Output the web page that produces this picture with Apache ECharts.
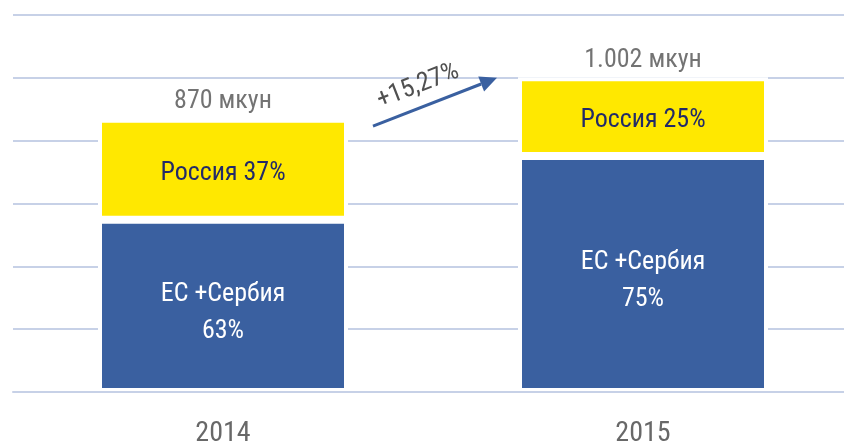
<!DOCTYPE html>
<html>
<head>
<meta charset="utf-8">
<style>
  html, body { margin: 0; padding: 0; background: #ffffff; }
  #chart { width: 844px; height: 443px; }
</style>
<script src="https://cdn.jsdelivr.net/npm/echarts@6/dist/echarts.min.js"></script>
</head>
<body>
<div id="chart"></div>
<script>
// Import volume by origin, 2014–2015
const years = ['2014', '2015'];
const totals = [870, 1002];          // мкун
const euShare = [63, 75];            // % ЕС + Сербия
const ruShare = [37, 25];            // % Россия
const yTicks = [0, 200, 400, 600, 800, 1000, 1200];
const growthLabel = '+15,27%';

const FONT = '"Roboto Condensed", Roboto, sans-serif';
const BLUE = '#3a60a0';
const YELLOW = '#ffe800';
const GRID = '#c7d1e7';

const euValues = totals.map((t, i) => t * euShare[i] / 100);
const ruValues = totals.map((t, i) => t * ruShare[i] / 100);

function thousands(n) {
  return String(n).replace(/\B(?=(\d{3})+(?!\d))/g, '.');
}

const chart = echarts.init(document.getElementById('chart'), null, { renderer: 'canvas' });

chart.setOption({
  animation: false,
  backgroundColor: '#ffffff',
  textStyle: { fontFamily: FONT },
  grid: { left: 13, right: -9, top: 15, bottom: 51, containLabel: false, outerBoundsMode: 'none' },
  xAxis: {
    type: 'category',
    data: years,
    z: 5,
    axisLine: { show: true, lineStyle: { color: GRID, width: 2 } },
    axisTick: { show: false },
    axisLabel: { color: '#686868', fontSize: 28, fontFamily: FONT, margin: 28 }
  },
  yAxis: {
    type: 'value',
    min: yTicks[0],
    max: yTicks[yTicks.length - 1],
    interval: yTicks[1] - yTicks[0],
    axisLine: { show: false },
    axisTick: { show: false },
    axisLabel: { show: false },
    splitLine: { show: true, lineStyle: { color: GRID, width: 2 } }
  },
  series: [
    {
      name: 'ЕС +Сербия',
      type: 'bar',
      stack: 'total',
      barWidth: 250,
      data: euValues,
      itemStyle: { color: BLUE, borderColor: '#ffffff', borderWidth: 4 },
      label: {
        show: true,
        position: 'inside',
        offset: [0, 7],
        color: '#ffffff',
        fontSize: 26,
        lineHeight: 37,
        fontFamily: FONT,
        formatter: p => 'ЕС +Сербия\n' + euShare[p.dataIndex] + '%'
      }
    },
    {
      name: 'Россия',
      type: 'bar',
      stack: 'total',
      barWidth: 250,
      data: ruValues,
      itemStyle: { color: YELLOW, borderColor: '#ffffff', borderWidth: 4 },
      label: {
        show: true,
        position: 'inside',
        offset: [0, 4],
        color: '#222a68',
        fontSize: 26,
        fontFamily: FONT,
        formatter: p => 'Россия ' + ruShare[p.dataIndex] + '%'
      }
    },
    {
      name: 'total',
      type: 'scatter',
      symbolSize: 0,
      data: totals,
      silent: true,
      z: 6,
      label: {
        show: true,
        position: 'top',
        distance: 4,
        color: '#505050',
        fontSize: 26,
        fontFamily: FONT,
        formatter: p => thousands(totals[p.dataIndex]) + ' мкун'
      }
    }
  ]
});

// Growth arrow between the two columns, anchored to axis coordinates
function drawArrow() {
  const a = chart.convertToPixel({ gridIndex: 0 }, [0, 846]);
  const b = chart.convertToPixel({ gridIndex: 0 }, [1, 1000]);
  const x1 = a[0] + 150, y1 = a[1];
  const x2 = b[0] - 146, y2 = b[1];
  const ang = Math.atan2(y2 - y1, x2 - x1);
  const head = 17, half = 8;
  const bx = x2 - head * Math.cos(ang), by = y2 - head * Math.sin(ang);
  const nx = -Math.sin(ang), ny = Math.cos(ang);
  const mx = (x1 + x2) / 2, my = (y1 + y2) / 2;

  chart.setOption({
    graphic: [
      {
        type: 'line',
        shape: { x1: x1, y1: y1, x2: bx, y2: by },
        style: { stroke: BLUE, lineWidth: 3 },
        z: 10
      },
      {
        type: 'polygon',
        shape: { points: [[x2, y2], [bx + nx * half, by + ny * half], [bx - nx * half, by - ny * half]] },
        style: { fill: BLUE },
        z: 10
      },
      {
        type: 'text',
        x: mx - 17,
        y: my - 16,
        rotation: -ang,
        style: {
          text: growthLabel,
          fill: '#505050',
          font: '26px ' + FONT,
          align: 'center',
          verticalAlign: 'middle'
        },
        z: 10
      }
    ]
  });
}
drawArrow();
</script>
</body>
</html>
